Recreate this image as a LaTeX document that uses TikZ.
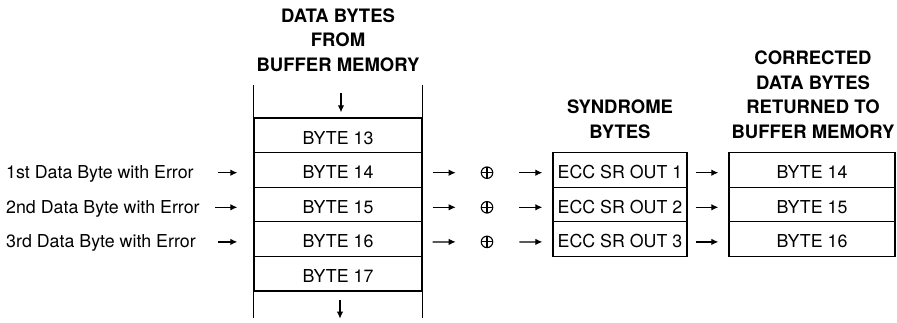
\documentclass[tikz,border=0pt]{standalone}
\usepackage{fontspec}
\setmainfont{TeX Gyre Heros}
\usetikzlibrary{arrows.meta}
\begin{document}
\begin{tikzpicture}[x=1pt,y=-1pt,
  txt/.style={font=\fontsize{17.8}{20}\selectfont},
  hd/.style={anchor=base,inner sep=0pt,font=\bfseries\fontsize{18.5}{22}\selectfont},
  cellbase/.style={draw,line width=1.3pt,inner sep=0pt,minimum height=34.6pt,
    text height=17.6pt,text depth=0pt,txt},
  cell/.style={cellbase,minimum width=168pt},
  ecc/.style={cellbase,minimum width=134pt},
  outc/.style={cellbase,minimum width=166pt},
  lbl/.style={anchor=base west,inner sep=0pt,txt},
  arr/.style={-{Latex[length=7pt,width=6.5pt]},line width=1.2pt},
  colline/.style={line width=1.3pt},
  xorc/.style={circle,draw,line width=1.1pt,minimum size=11.5pt,inner sep=0pt,
    path picture={\draw[line width=1.1pt]
      (path picture bounding box.north) -- (path picture bounding box.south)
      (path picture bounding box.west) -- (path picture bounding box.east);}}
]
\useasboundingbox (0,0) rectangle (897,322);

% headers
\node[hd] (h1a) at (338,22) {DATA BYTES};
\node[hd] (h1b) at (338,46.7) {FROM};
\node[hd] (h1c) at (338,71.4) {BUFFER MEMORY};
\node[hd] (h2a) at (620,113.5) {SYNDROME};
\node[hd] (h2b) at (620,138) {BYTES};
\node[hd] (h3a) at (813,64) {CORRECTED};
\node[hd] (h3b) at (813,89) {DATA BYTES};
\node[hd] (h3c) at (813,113.5) {RETURNED TO};
\node[hd] (h3d) at (813,138) {BUFFER MEMORY};

% data column
\node[cell] (b13) at (338,135.3) {BYTE 13};
\node[cell] (b14) at (338,169.9) {BYTE 14};
\node[cell] (b15) at (338,204.5) {BYTE 15};
\node[cell] (b16) at (338,239.1) {BYTE 16};
\node[cell] (b17) at (338,273.7) {BYTE 17};
\draw[colline] (b13.north west) -- ++(0,-32);
\draw[colline] (b13.north east) -- ++(0,-32);
\draw[colline] (b17.south west) -- ++(0,26);
\draw[colline] (b17.south east) -- ++(0,26);
\draw[arr] ([xshift=3pt,yshift=24pt]b13.north) -- ([xshift=3pt,yshift=5pt]b13.north);
\draw[arr] ([xshift=2pt,yshift=-8pt]b17.south) -- ([xshift=2pt,yshift=-27pt]b17.south);

% left labels
\node[lbl] (l1) at (6,178.7) {1st Data Byte with Error};
\node[lbl] (l2) at (6,213.3) {2nd Data Byte with Error};
\node[lbl] (l3) at (6,247.9) {3rd Data Byte with Error};
\draw[arr] ([yshift=-2.8pt,xshift=-35pt]b14.west) -- ([yshift=-2.8pt,xshift=-16pt]b14.west);
\draw[arr] ([yshift=-2.8pt,xshift=-38pt]b15.west) -- ([yshift=-2.8pt,xshift=-16pt]b15.west);
\draw[arr] ([yshift=-2.8pt,xshift=-35pt]b16.west) -- ([yshift=-2.8pt,xshift=-16pt]b16.west);

% xor symbols
\node[xorc] (x1) at (487,172.7) {};
\node[xorc] (x2) at (487,207.3) {};
\node[xorc] (x3) at (487,241.9) {};

% syndrome boxes
\node[ecc] (e1) at (620,169.9) {ECC SR OUT 1};
\node[ecc] (e2) at (620,204.5) {ECC SR OUT 2};
\node[ecc] (e3) at (620,239.1) {ECC SR OUT 3};

% corrected bytes
\node[outc] (o1) at (812,169.9) {BYTE 14};
\node[outc] (o2) at (812,204.5) {BYTE 15};
\node[outc] (o3) at (812,239.1) {BYTE 16};

% arrows column -> xor -> ecc -> out
\foreach \b/\x/\e/\o in {b14/x1/e1/o1,b15/x2/e2/o2,b16/x3/e3/o3}{
  \draw[arr,shorten <=10pt,shorten >=25pt] ([yshift=-2.8pt]\b.east) -- (\x.west);
  \draw[arr,shorten <=26pt,shorten >=10pt] (\x.east) -- ([yshift=-2.8pt]\e.west);
  \draw[arr,shorten <=8pt,shorten >=10pt] ([yshift=-2.8pt]\e.east) -- ([yshift=-2.8pt]\o.west);
}
\end{tikzpicture}
\end{document}
